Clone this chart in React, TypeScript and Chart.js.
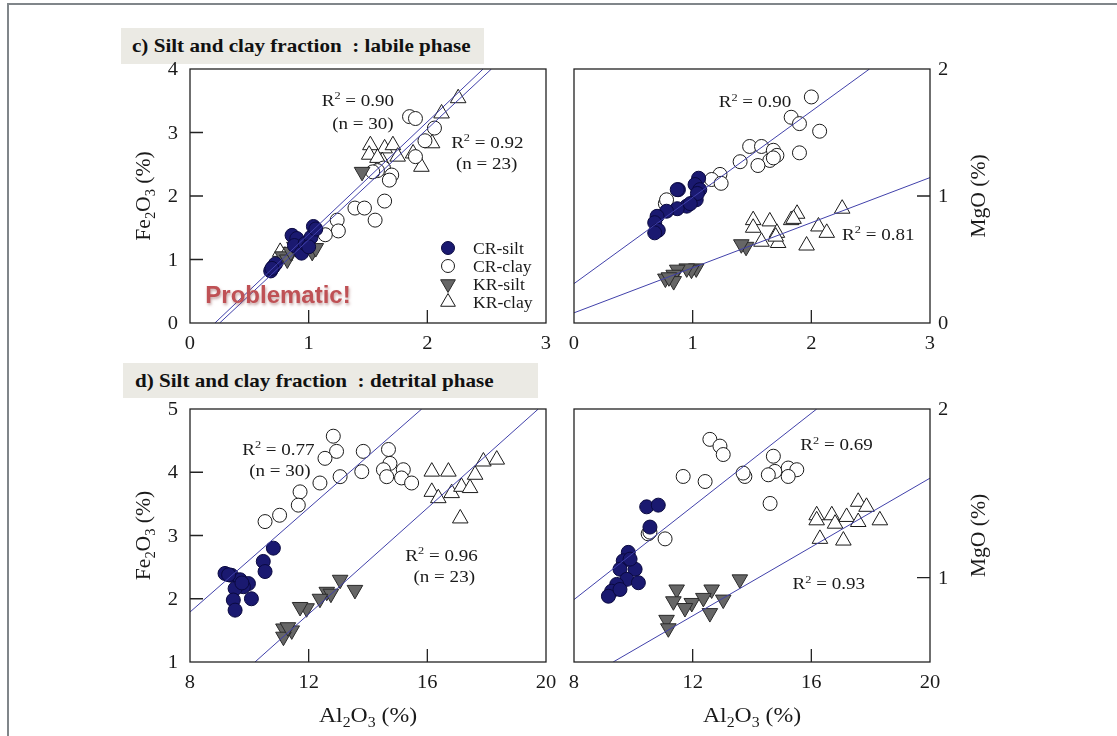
import React, { useEffect, useRef } from 'react';
import { Chart, registerables } from 'chart.js';
Chart.register(...registerables);

const SERIF = "'Liberation Serif','Times New Roman',serif";

// ---------- data: c) labile phase, Fe2O3 vs Al2O3 ----------
const labFeCRsilt = [[0.68,0.82],[0.70,0.88],[0.72,0.93],[0.69,0.86],[0.86,1.38],[0.90,1.33],[0.88,1.22],[0.94,1.10],[0.97,1.25],[1.02,1.35],[1.04,1.52],[1.06,1.48],[1.00,1.20]];
const labFeCRclay = [[1.85,3.25],[1.90,3.22],[2.06,3.07],[1.98,2.87],[1.90,2.62],[1.63,2.44],[1.70,2.33],[1.68,2.25],[1.64,1.92],[1.39,1.81],[1.47,1.81],[1.56,1.62],[1.24,1.62],[1.25,1.45],[1.14,1.39],[1.58,2.40],[1.54,2.38]];
const labFeKRsilt = [[0.78,1.05],[0.82,1.00],[0.85,1.12],[0.88,1.20],[0.92,1.18],[0.96,1.15],[1.03,1.12],[1.06,1.18],[1.45,2.38]];
const labFeKRclay = [[0.76,1.12],[0.80,1.06],[1.52,2.80],[1.51,2.65],[1.64,2.75],[1.71,2.80],[1.75,2.62],[1.88,2.67],[1.95,2.46],[2.04,2.83],[2.12,3.30],[2.26,3.54],[1.62,2.55],[1.58,2.60]];
const labFeFitA = [[0.21,0],[2.47,4]];
const labFeFitB = [[0.25,0],[2.54,4]];

// ---------- data: c) labile phase, MgO vs Al2O3 ----------
const labMgCRsilt = [[0.88,1.05],[1.05,1.14],[0.87,1.05],[1.02,1.09],[1.06,1.05],[1.03,0.97],[0.95,0.92],[0.87,0.90],[0.78,0.88],[0.70,0.84],[0.68,0.79],[0.71,0.73],[0.68,0.71],[1.04,1.02],[0.98,0.94]];
const labMgCRclay = [[2.00,1.78],[1.83,1.62],[1.90,1.57],[2.07,1.51],[1.90,1.34],[1.48,1.39],[1.58,1.39],[1.68,1.36],[1.71,1.32],[1.65,1.28],[1.55,1.24],[1.40,1.27],[1.23,1.17],[1.16,1.13],[1.24,1.10],[0.77,0.94],[0.78,0.97],[1.68,1.30]];
const labMgKRsilt = [[1.45,0.60],[1.41,0.62],[1.03,0.43],[0.99,0.42],[0.95,0.43],[0.87,0.42],[0.84,0.38],[0.77,0.35],[0.84,0.33],[0.80,0.36]];
const labMgKRclay = [[1.51,0.81],[1.51,0.75],[1.65,0.80],[1.83,0.81],[1.88,0.86],[2.06,0.76],[2.13,0.71],[2.26,0.90],[1.71,0.71],[1.58,0.64],[1.72,0.63],[1.96,0.61],[1.85,0.82],[1.70,0.68]];
const labMgFitCR = [[0,0.31],[2.49,2]];
const labMgFitKR = [[0,0.08],[3,1.145]];

// ---------- data: d) detrital phase, Fe2O3 vs Al2O3 ----------
const detFeCRsilt = [[10.81,2.80],[10.47,2.59],[10.53,2.43],[9.18,2.40],[9.40,2.37],[9.69,2.30],[9.97,2.24],[9.80,2.19],[9.52,2.16],[10.07,2.00],[9.46,1.98],[9.52,1.82],[9.30,2.38],[9.75,2.25]];
const detFeCRclay = [[12.83,4.57],[12.94,4.33],[12.55,4.22],[13.84,4.33],[13.79,4.01],[13.06,3.93],[12.38,3.83],[11.71,3.69],[11.65,3.48],[11.02,3.32],[10.53,3.22],[14.69,4.36],[14.74,4.14],[14.52,4.04],[14.63,3.93],[15.19,4.04],[15.13,3.91],[15.47,3.83]];
const detFeKRsilt = [[13.06,2.30],[13.56,2.14],[12.61,2.11],[12.75,2.08],[12.38,2.00],[11.93,1.85],[11.71,1.87],[11.15,1.53],[11.43,1.50],[11.15,1.40],[11.30,1.55]];
const detFeKRclay = [[16.15,4.01],[16.71,4.01],[16.15,3.69],[16.37,3.59],[16.82,3.67],[17.15,3.77],[17.44,3.75],[17.61,3.96],[17.89,4.17],[18.34,4.20],[17.11,3.27]];
const detFeFitCR = [[8,1.79],[15.81,5]];
const detFeFitKR = [[10.19,1],[19.74,5]];

// ---------- data: d) detrital phase, MgO vs Al2O3 ----------
const detMgCRsilt = [[10.45,1.42],[10.84,1.43],[10.56,1.30],[9.83,1.15],[9.66,1.10],[9.55,1.05],[10.06,1.05],[9.78,0.99],[10.17,0.97],[9.44,0.96],[9.27,0.92],[9.16,0.89],[9.55,0.93],[9.89,1.11]];
const detMgCRclay = [[12.58,1.82],[12.92,1.78],[13.03,1.73],[11.68,1.60],[12.42,1.57],[13.76,1.60],[14.72,1.72],[14.77,1.63],[14.55,1.61],[15.22,1.65],[15.51,1.64],[15.22,1.60],[14.61,1.44],[10.50,1.26],[11.07,1.23],[10.56,1.27],[13.70,1.62]];
const detMgKRsilt = [[13.59,0.99],[11.46,0.93],[12.64,0.93],[11.35,0.86],[11.97,0.85],[12.36,0.88],[13.03,0.87],[11.74,0.82],[12.58,0.79],[11.12,0.75],[11.18,0.70]];
const detMgKRclay = [[17.58,1.45],[17.86,1.42],[18.31,1.34],[16.18,1.37],[16.69,1.37],[17.19,1.36],[16.18,1.34],[16.80,1.32],[17.58,1.33],[16.29,1.23],[17.08,1.22]];
const detMgFitCR = [[8,0.87],[16.18,2]];
const detMgFitKR = [[9.32,0.5],[20,1.59]];

// ---------- ticks ----------
const labXTicks = [0, 1, 2, 3];
const labFeYTicks = [0, 1, 2, 3, 4];
const labMgYTicks = [0, 1, 2];
const detXTicks = [8, 12, 16, 20];
const detFeYTicks = [1, 2, 3, 4, 5];
const detMgYTicks = [1, 2];

const legendLabels = ['CR-silt', 'CR-clay', 'KR-silt', 'KR-clay'];

const NAVY = '#1a1970';
const NAVY_EDGE = '#0a0940';
const GREY = '#666666';
const GREY_EDGE = '#2a2a2a';
const FIT = '#4141aa';
const FRAME = '#222';
const INK = '#1a1a1a';
const STRETCH = 1.14;

type Seg = { t: string; k?: 'sub' | 'sup' };
function parseRich(s: string): Seg[] {
  const out: Seg[] = [];
  let buf = '';
  for (let i = 0; i < s.length; i++) {
    const c = s[i];
    if ((c === '_' || c === '^') && i + 1 < s.length) {
      if (buf) out.push({ t: buf });
      buf = '';
      out.push({ t: s[i + 1], k: c === '_' ? 'sub' : 'sup' });
      i++;
    } else buf += c;
  }
  if (buf) out.push({ t: buf });
  return out;
}
function drawRich(ctx: CanvasRenderingContext2D, str: string, x: number, y: number, size: number,
  align: 'center' | 'left' | 'right', stretch: number) {
  const segs = parseRich(str);
  const small = Math.round(size * 0.66);
  ctx.save();
  ctx.translate(x, y);
  ctx.scale(stretch, 1);
  ctx.textBaseline = 'alphabetic';
  ctx.textAlign = 'left';
  const widths = segs.map(s => {
    ctx.font = `${s.k ? small : size}px ${SERIF}`;
    return ctx.measureText(s.t).width;
  });
  const total = widths.reduce((a, b) => a + b, 0);
  let cx = align === 'center' ? -total / 2 : align === 'right' ? -total : 0;
  segs.forEach((s, i) => {
    ctx.font = `${s.k ? small : size}px ${SERIF}`;
    const dy = s.k === 'sub' ? size * 0.25 : s.k === 'sup' ? -size * 0.4 : 0;
    ctx.fillText(s.t, cx, dy);
    cx += widths[i];
  });
  ctx.restore();
}

function drawSymbol(ctx: CanvasRenderingContext2D, kind: number, x: number, y: number) {
  ctx.save();
  ctx.lineWidth = 1;
  ctx.beginPath();
  if (kind === 0 || kind === 1) {
    ctx.arc(x, y, 6.5, 0, Math.PI * 2);
    ctx.fillStyle = kind === 0 ? NAVY : '#fff';
    ctx.strokeStyle = kind === 0 ? NAVY_EDGE : INK;
  } else {
    const r = 8.5;
    const dir = kind === 2 ? -1 : 1;
    ctx.moveTo(x, y - dir * r);
    ctx.lineTo(x + r * 0.866, y + dir * r * 0.5);
    ctx.lineTo(x - r * 0.866, y + dir * r * 0.5);
    ctx.closePath();
    ctx.fillStyle = kind === 2 ? GREY : '#fff';
    ctx.strokeStyle = kind === 2 ? GREY_EDGE : INK;
  }
  ctx.fill();
  ctx.stroke();
  ctx.restore();
}

type Note = { text: string; x: number; y: number };
type Spec = {
  left: number; top: number; w: number; h: number;
  xmin: number; xmax: number; ymin: number; ymax: number;
  xTicks: number[]; yTicks: number[];
  yRight: boolean; xAxisH: number;
  crSilt: number[][]; crClay: number[][]; krSilt: number[][]; krClay: number[][];
  fits: number[][][];
  notes: Note[];
  yTitle: string; xTitle?: string;
  legend?: boolean;
};

const pts = (a: number[][]) => a.map(([x, y]) => ({ x, y }));

function Panel({ spec }: { spec: Spec }) {
  const ref = useRef<HTMLCanvasElement>(null);
  useEffect(() => {
    const s = spec;
    const plugin = {
      id: 'frame' + s.left + s.top,
      afterDraw(chart: any) {
        const ctx: CanvasRenderingContext2D = chart.ctx;
        const a = chart.chartArea;
        const xs = chart.scales.x;
        const ys = chart.scales.y;
        const TL = 13;
        ctx.save();
        ctx.strokeStyle = FRAME;
        ctx.lineWidth = 1.3;
        ctx.strokeRect(a.left, a.top, a.right - a.left, a.bottom - a.top);
        ctx.beginPath();
        ctx.fillStyle = INK;
        xs.ticks.forEach((t: any) => {
          const px = xs.getPixelForValue(t.value);
          if (px > a.left + 2 && px < a.right - 2) {
            ctx.moveTo(px, a.bottom);
            ctx.lineTo(px, a.bottom - TL);
          }
          drawRich(ctx, String(t.value), px, a.bottom + 26, 18, 'center', STRETCH);
        });
        ys.ticks.forEach((t: any) => {
          const py = ys.getPixelForValue(t.value);
          if (py > a.top + 2 && py < a.bottom - 2) {
            if (s.yRight) { ctx.moveTo(a.right, py); ctx.lineTo(a.right - TL, py); }
            else { ctx.moveTo(a.left, py); ctx.lineTo(a.left + TL, py); }
          }
          if (s.yRight) drawRich(ctx, String(t.value), a.right + 8, py + 6, 18, 'left', STRETCH);
          else drawRich(ctx, String(t.value), a.left - 12, py + 6, 18, 'right', STRETCH);
        });
        ctx.stroke();
        s.notes.forEach(n => {
          drawRich(ctx, n.text, xs.getPixelForValue(n.x), ys.getPixelForValue(n.y), 17, 'center', 1.12);
        });
        // y title
        const midY = (a.top + a.bottom) / 2;
        ctx.save();
        ctx.translate(s.yRight ? a.right + 55 : a.left - 40, midY);
        ctx.rotate(-Math.PI / 2);
        drawRich(ctx, s.yTitle, 0, 0, 21, 'center', 1.03);
        ctx.restore();
        if (s.xTitle) {
          drawRich(ctx, s.xTitle, (a.left + a.right) / 2, a.bottom + 60, 21, 'center', 1.13);
        }
        if (s.legend) {
          const sx = a.left + 258;
          const tx = a.left + 283;
          legendLabels.forEach((lab, i) => {
            const y = a.top + 179 + i * 18;
            drawSymbol(ctx, i, sx, y);
            ctx.fillStyle = INK;
            drawRich(ctx, lab, tx, y + 6, 16, 'left', 1.1);
          });
        }
        ctx.restore();
      },
    };
    const fitSets = s.fits.map(f => ({
      data: pts(f), showLine: true, borderColor: FIT, borderWidth: 1, pointRadius: 0, order: 0,
    }));
    const chart = new Chart(ref.current as HTMLCanvasElement, {
      type: 'scatter',
      data: {
        datasets: [
          ...fitSets,
          { data: pts(s.crSilt), pointStyle: 'circle', pointRadius: 7, backgroundColor: NAVY, borderColor: NAVY_EDGE, borderWidth: 1, order: 1 },
          { data: pts(s.krSilt), pointStyle: 'triangle', pointRotation: 180, pointRadius: 9, backgroundColor: GREY, borderColor: GREY_EDGE, borderWidth: 1, order: 2 },
          { data: pts(s.crClay), pointStyle: 'circle', pointRadius: 7, backgroundColor: '#fff', borderColor: INK, borderWidth: 1, order: 3 },
          { data: pts(s.krClay), pointStyle: 'triangle', pointRadius: 9, backgroundColor: '#fff', borderColor: INK, borderWidth: 1, order: 4 },
        ] as any,
      },
      options: {
        animation: false,
        responsive: false,
        events: [],
        layout: { padding: s.yRight ? { top: 24, left: 14, right: 0, bottom: 0 } : { top: 24, left: 0, right: 14, bottom: 0 } },
        plugins: { legend: { display: false }, tooltip: { enabled: false } },
        scales: {
          x: {
            type: 'linear', position: 'bottom', min: s.xmin, max: s.xmax,
            grid: { display: false, drawTicks: false }, border: { display: false },
            ticks: { display: false },
            afterBuildTicks: (sc: any) => { sc.ticks = s.xTicks.map(v => ({ value: v })); },
            afterFit: (sc: any) => { sc.height = s.xAxisH; },
          },
          y: {
            type: 'linear', position: s.yRight ? 'right' : 'left', min: s.ymin, max: s.ymax,
            grid: { display: false, drawTicks: false }, border: { display: false },
            ticks: { display: false },
            afterBuildTicks: (sc: any) => { sc.ticks = s.yTicks.map(v => ({ value: v })); },
            afterFit: (sc: any) => { sc.width = s.yRight ? 70 : 90; },
          },
        },
      } as any,
      plugins: [plugin],
    });
    return () => chart.destroy();
  }, [spec]);
  return (
    <canvas ref={ref} width={spec.w} height={spec.h}
      style={{ position: 'absolute', left: spec.left, top: spec.top, width: spec.w, height: spec.h }} />
  );
}

const specs: Spec[] = [
  {
    left: 100, top: 45, w: 460, h: 320, xmin: 0, xmax: 3, ymin: 0, ymax: 4,
    xTicks: labXTicks, yTicks: labFeYTicks, yRight: false, xAxisH: 42,
    crSilt: labFeCRsilt, crClay: labFeCRclay, krSilt: labFeKRsilt, krClay: labFeKRclay,
    fits: [labFeFitA, labFeFitB],
    notes: [
      { text: 'R^2 = 0.90', x: 1.415, y: 3.42 },
      { text: '(n = 30)', x: 1.457, y: 3.055 },
      { text: 'R^2 = 0.92', x: 2.506, y: 2.76 },
      { text: '(n = 23)', x: 2.50, y: 2.42 },
    ],
    yTitle: 'Fe_2O_3 (%)', legend: true,
  },
  {
    left: 560, top: 45, w: 440, h: 320, xmin: 0, xmax: 3, ymin: 0, ymax: 2,
    xTicks: labXTicks, yTicks: labMgYTicks, yRight: true, xAxisH: 42,
    crSilt: labMgCRsilt, crClay: labMgCRclay, krSilt: labMgKRsilt, krClay: labMgKRclay,
    fits: [labMgFitCR, labMgFitKR],
    notes: [
      { text: 'R^2 = 0.90', x: 1.525, y: 1.698 },
      { text: 'R^2 = 0.81', x: 2.564, y: 0.654 },
    ],
    yTitle: 'MgO (%)',
  },
  {
    left: 100, top: 385, w: 460, h: 351, xmin: 8, xmax: 20, ymin: 1, ymax: 5,
    xTicks: detXTicks, yTicks: detFeYTicks, yRight: false, xAxisH: 74,
    crSilt: detFeCRsilt, crClay: detFeCRclay, krSilt: detFeKRsilt, krClay: detFeKRclay,
    fits: [detFeFitCR, detFeFitKR],
    notes: [
      { text: 'R^2 = 0.77', x: 10.98, y: 4.276 },
      { text: '(n = 30)', x: 11.03, y: 3.943 },
      { text: 'R^2 = 0.96', x: 16.48, y: 2.60 },
      { text: '(n = 23)', x: 16.57, y: 2.268 },
    ],
    yTitle: 'Fe_2O_3 (%)', xTitle: 'Al_2O_3 (%)',
  },
  {
    left: 560, top: 385, w: 440, h: 351, xmin: 8, xmax: 20, ymin: 0.5, ymax: 2,
    xTicks: detXTicks, yTicks: detMgYTicks, yRight: true, xAxisH: 74,
    crSilt: detMgCRsilt, crClay: detMgCRclay, krSilt: detMgKRsilt, krClay: detMgKRclay,
    fits: [detMgFitCR, detMgFitKR],
    notes: [
      { text: 'R^2 = 0.69', x: 16.85, y: 1.754 },
      { text: 'R^2 = 0.93', x: 16.59, y: 0.93 },
    ],
    yTitle: 'MgO (%)', xTitle: 'Al_2O_3 (%)',
  },
];

const titleStyle: React.CSSProperties = {
  position: 'absolute', background: '#ebeae4', fontFamily: SERIF, fontWeight: 'bold',
  fontSize: 19, color: '#111', whiteSpace: 'nowrap', boxSizing: 'border-box', overflow: 'hidden',
};
const titleText: React.CSSProperties = {
  display: 'inline-block', transform: 'scaleX(1.11)', transformOrigin: 'left center',
};

export default function App() {
  return (
    <div style={{ position: 'absolute', left: 0, top: 0, width: 1117, height: 736, background: '#fff', overflow: 'hidden' }}>
      <div style={{ position: 'absolute', left: 7, top: 3, width: 1120, height: 740, borderLeft: '2px solid #80868a', borderTop: '2px solid #80868a' }} />
      <div style={{ ...titleStyle, left: 121, top: 28, width: 363, height: 36, lineHeight: '36px', paddingLeft: 11 }}>
        <span style={titleText}>c) Silt and clay fraction&nbsp; : labile phase</span>
      </div>
      <div style={{ ...titleStyle, left: 123, top: 363, width: 415, height: 35, lineHeight: '35px', paddingLeft: 12 }}>
        <span style={titleText}>d) Silt and clay fraction&nbsp; : detrital phase</span>
      </div>
      {specs.map((s, i) => <Panel key={i} spec={s} />)}
      <div style={{
        position: 'absolute', left: 193, top: 280, width: 170, textAlign: 'center', lineHeight: '30px',
        fontFamily: "'Liberation Sans', Arial, sans-serif", fontWeight: 'bold', fontSize: 24,
        color: '#bf5155', textShadow: '1px 2px 3px rgba(150,90,90,0.55)', zIndex: 5,
      }}>
        Problematic!
      </div>
    </div>
  );
}
